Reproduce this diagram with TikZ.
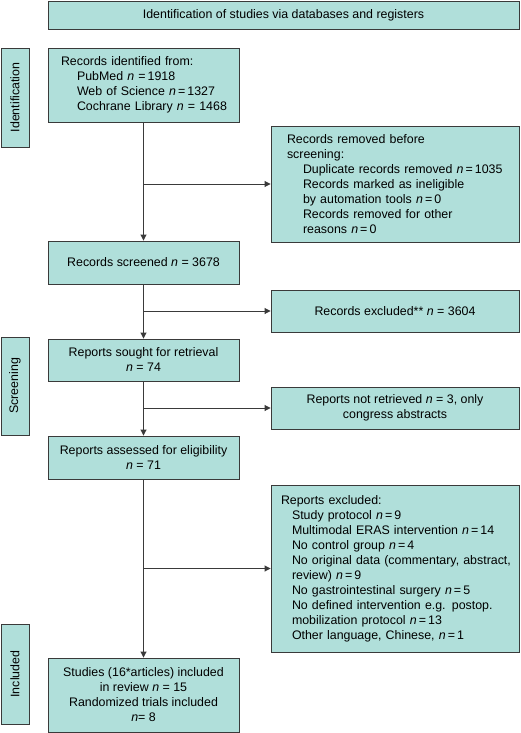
\documentclass[tikz,border=0pt]{standalone}
\usepackage{fontspec}
\setmainfont{Liberation Sans}
\usetikzlibrary{arrows.meta}
\definecolor{boxfill}{HTML}{B0DFDA}
\definecolor{boxline}{HTML}{3A3A3A}
\newcommand{\nn}{\textit{n}}
\newcommand{\subl}[2]{\hspace*{#1}\mbox{#2}}
\tikzset{
  every node/.style={font=\fontsize{12.4}{15}\selectfont},
  box/.style={draw=boxline, fill=boxfill, line width=0.9pt, inner sep=0pt},
  cbox/.style={box, align=center},
  lbox/.style={box, align=left},
  side/.style={box, rotate=90, minimum height=28pt, align=center},
  conn/.style={draw=boxline, line width=0.9pt, -{Triangle[length=6pt,width=6pt]}},
  link/.style={draw=boxline, line width=0.9pt}
}
\begin{document}
\begin{tikzpicture}[x=1pt,y=1pt]
\useasboundingbox (0,0) rectangle (520,-733);

\node[cbox, minimum width=471, minimum height=28] (hdr) at (283.5,-15)
  {Identification of studies via databases and registers};

\node[side, minimum width=99] (lid) at (15,-97.5) {Identification};
\node[side, minimum width=98] (lsc) at (15,-386) {Screening};
\node[side, minimum width=100] (lin) at (15,-674) {Included};

\node[lbox, minimum width=191, minimum height=74, text width=165, inner xsep=13] (idf) at (143.5,-85)
  {\subl{0pt}{Records identified from:}\\
   \subl{16pt}{PubMed \nn{} =\,1918}\\
   \subl{16pt}{Web of Science \nn\,=\,1327}\\
   \subl{16pt}{Cochrane Library \nn{} = 1468}};

\node[lbox, minimum width=248, minimum height=116, text width=216, inner xsep=16] (rem) at (395,-184)
  {\subl{0pt}{Records removed before}\\
   \subl{0pt}{screening:}\\
   \subl{16pt}{Duplicate records removed \nn\,=\,1035}\\
   \subl{16pt}{Records marked as ineligible}\\
   \subl{16pt}{by automation tools \nn\,=\,0}\\
   \subl{16pt}{Records removed for other}\\
   \subl{16pt}{reasons \nn\,=\,0}};

\node[cbox, minimum width=191, minimum height=43] (scr) at (143.5,-262.5)
  {Records screened \nn{} = 3678};

\node[cbox, minimum width=248, minimum height=42] (exc) at (395,-311)
  {Records excluded** \nn{} = 3604};

\node[cbox, minimum width=191, minimum height=42] (sou) at (143.5,-360)
  {Reports sought for retrieval\\ \nn{} = 74};

\node[cbox, minimum width=248, minimum height=42] (nret) at (395,-408)
  {Reports not retrieved \nn{} = 3, only\\ congress abstracts};

\node[cbox, minimum width=191, minimum height=43] (ass) at (143.5,-457.5)
  {Reports assessed for eligibility\\ \nn{} = 71};

\node[lbox, minimum width=248, minimum height=167, text width=228, inner xsep=10] (rex) at (395,-568.5)
  {\subl{0pt}{Reports excluded:}\\
   \subl{11pt}{Study protocol \nn\,=\,9}\\
   \subl{11pt}{Multimodal ERAS intervention \nn\,=\,14}\\
   \subl{11pt}{No control group \nn\,=\,4}\\
   \subl{11pt}{No original data (commentary, abstract,}\\
   \subl{11pt}{review) \nn\,=\,9}\\
   \subl{11pt}{No gastrointestinal surgery \nn\,=\,5}\\
   \subl{11pt}{No defined intervention e.g. postop.}\\
   \subl{11pt}{mobilization protocol \nn\,=\,13}\\
   \subl{11pt}{Other language, Chinese, \nn\,=\,1}};

\node[cbox, minimum width=191, minimum height=74] (inc) at (143.5,-695)
  {Studies (16*articles) included\\ in review \nn{} = 15\\ Randomized trials included\\ \nn= 8};

\draw[conn] (idf.south) -- (scr.north);
\draw[conn] (idf.south |- rem.west) -- (rem.west);
\draw[conn] (scr.south) -- (sou.north);
\draw[conn] (scr.south |- exc.west) -- (exc.west);
\draw[conn] (sou.south) -- (ass.north);
\draw[conn] (sou.south |- nret.west) -- (nret.west);
\draw[conn] (ass.south) -- (inc.north);
\draw[conn] (ass.south |- rex.west) -- (rex.west);
\end{tikzpicture}
\end{document}
